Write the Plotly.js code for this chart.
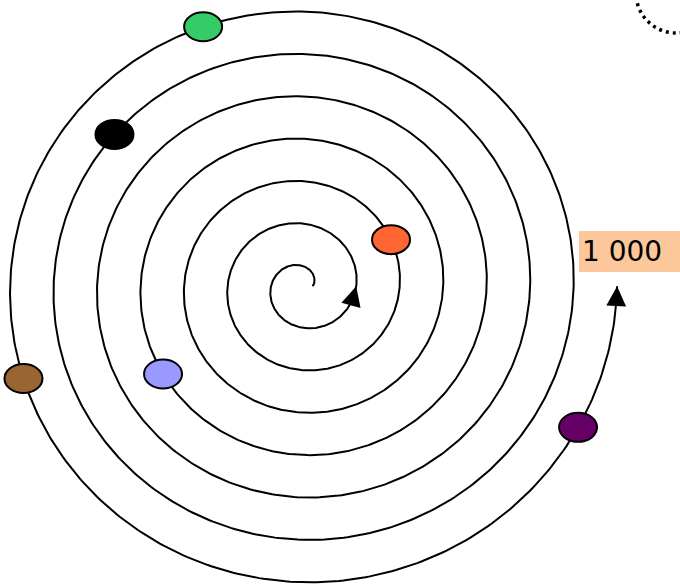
<!DOCTYPE html>
<html><head><meta charset="utf-8">
<script src="https://cdn.plot.ly/plotly-3.0.1.min.js"></script>
<style>html,body{margin:0;padding:0;background:#fff}</style>
</head><body><div id="chart" style="width:680px;height:586px"></div>
<script>
// ---- data ----
const dotValues = [297, 513, 770, 901, 936, 989];
const dotColors = ['#FF6633', '#9999FF', '#000000', '#33CC66', '#996633', '#660066'];
const maxValue = 1000;
const endLabel = '1 000';
const turns = 7;
const arrowTurns = [1, 7];

// ---- spiral geometry (axis) ----
const A = 10, B = 6.92;
function phiOf(v) { return v / maxValue * turns * 2 * Math.PI; }
function pt(phi) { const r = A + B * phi; return [r * Math.cos(phi), r * Math.sin(phi)]; }

const spX = [], spY = [];
const N = 3000;
for (let i = 0; i <= N; i++) {
  const p = pt(turns * 2 * Math.PI * i / N);
  spX.push(p[0]); spY.push(p[1]);
}

const shapes = [];
const W = 680, H = 586;
// dotted circle (top right decoration)
shapes.push({type: 'circle', xref: 'paper', yref: 'paper',
  x0: (676 - 40) / W, x1: (676 + 40) / W, y0: 1 - (-7 + 40) / H, y1: 1 - (-7 - 40) / H,
  line: {color: '#000', width: 3.5, dash: '3px,4px'}});
// label background
shapes.push({type: 'rect', xref: 'paper', yref: 'paper',
  x0: 579 / W, x1: 1.05, y0: 1 - 272 / H, y1: 1 - 231 / H,
  fillcolor: '#FCC89B', line: {width: 0}});
// dots
dotValues.forEach((v, i) => {
  const p = pt(phiOf(v));
  shapes.push({type: 'circle', xref: 'x', yref: 'y', xsizemode: 'pixel', ysizemode: 'pixel',
    xanchor: p[0], yanchor: p[1], x0: -19, x1: 19, y0: -14.5, y1: 14.5,
    fillcolor: dotColors[i], line: {color: '#000', width: 2}});
});

const annotations = [];
arrowTurns.forEach(t => {
  const phi = t * 2 * Math.PI;
  const r = A + B * phi;
  const tip = pt(phi), tail = pt(phi - 14 / r);
  annotations.push({x: tip[0], y: tip[1], ax: tail[0], ay: tail[1], xref: 'x', yref: 'y',
    axref: 'x', ayref: 'y', text: '', showarrow: true, arrowhead: 2, arrowsize: 2.2,
    arrowwidth: 1.8, arrowcolor: '#000', standoff: 0});
});
annotations.push({xref: 'paper', yref: 'paper', x: 580 / W, y: 1 - 251.5 / H,
  xanchor: 'left', yanchor: 'middle', text: endLabel, showarrow: false,
  font: {family: 'DejaVu Sans', size: 28, color: '#000'}});

const traces = [{type: 'scatter', mode: 'lines', x: spX, y: spY,
  line: {color: '#000', width: 2}, hoverinfo: 'skip'}];

const layout = {
  width: W, height: H, margin: {l: 0, r: 0, t: 0, b: 0},
  paper_bgcolor: '#fff', plot_bgcolor: '#fff', showlegend: false,
  xaxis: {range: [-302.75, 377.25], visible: false, fixedrange: true},
  yaxis: {range: [-307.4, 293.6], visible: false, fixedrange: true},
  shapes: shapes, annotations: annotations
};
Plotly.newPlot('chart', traces, layout, {staticPlot: true, displayModeBar: false});
</script></body></html>
